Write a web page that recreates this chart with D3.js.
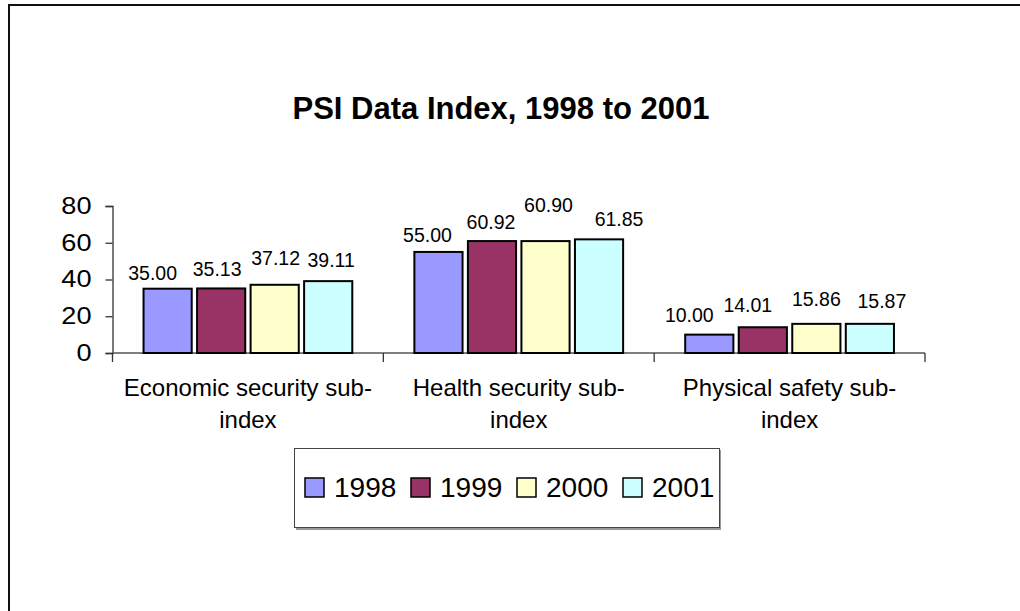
<!DOCTYPE html>
<html>
<head>
<meta charset="utf-8">
<script src="https://cdn.jsdelivr.net/npm/d3@7"></script>
<style>
  body { margin: 0; background: #fff; }
  svg { display: block; font-family: Arial, "Liberation Sans", sans-serif; }
</style>
</head>
<body>
<svg id="chart" width="1020" height="611"></svg>
<script>
// chart data
const categories = [
  ["Economic security sub-", "index"],
  ["Health security sub-", "index"],
  ["Physical safety sub-", "index"]
];
const years = ["1998", "1999", "2000", "2001"];
const values1998 = [35.00, 55.00, 10.00];
const values1999 = [35.13, 60.92, 14.01];
const values2000 = [37.12, 60.90, 15.86];
const values2001 = [39.11, 61.85, 15.87];
const yTicks = [0, 20, 40, 60, 80];
const colors = ["#9999FF", "#993366", "#FFFFCC", "#CCFFFF"];

// label nudges (dx, dy from bar centre/top), the source staggers its labels
const labelNudge = [
  [[-15, -16], [-11, -17], [-20, -19]],
  [[-4, -19], [-1, -19], [-15, -22]],
  [[1, -27], [3, -36], [0, -25]],
  [[3, -21], [20, -20], [12, -23]]
];

const series = [values1998, values1999, values2000, values2001];

const svg = d3.select("#chart");

// outer chart border (only top and left show in frame)
svg.append("path")
  .attr("d", "M9,611 V5 H1020")
  .attr("fill", "none")
  .attr("stroke", "#111")
  .attr("stroke-width", 2);

// title
svg.append("text")
  .attr("x", 501)
  .attr("y", 119)
  .attr("text-anchor", "middle")
  .attr("font-weight", "bold")
  .attr("font-size", 31)
  .text("PSI Data Index, 1998 to 2001");

const plotLeft = 112.5, plotRight = 925, plotTop = 206, plotBottom = 353;

let x0 = d3.scaleBand()
  .domain(d3.range(categories.length))
  .range([plotLeft, plotRight])
  .padding(0);

let x1 = d3.scaleBand()
  .domain(years)
  .range([0, x0.bandwidth()])
  .paddingInner(0.1)
  .paddingOuter(0.58);

let y = d3.scaleLinear().domain([0, 80]).range([plotBottom, plotTop]);

// y axis
let yAxis = d3.axisLeft(y).tickValues(yTicks).tickSize(7).tickPadding(14);
let gy = svg.append("g")
  .attr("transform", "translate(" + plotLeft + ",0)")
  .call(yAxis);
gy.select(".domain").attr("stroke", "#333").attr("stroke-width", 1.3);
gy.selectAll(".tick line").attr("stroke", "#333").attr("stroke-width", 1.3);
gy.selectAll(".tick text")
  .attr("font-size", 23)
  .attr("fill", "#000")
  .attr("font-family", null)
  .attr("transform", "scale(1.18,1)")
  .attr("x", -21 / 1.18);

// x axis line + category boundary ticks
svg.append("line")
  .attr("x1", plotLeft).attr("x2", plotRight)
  .attr("y1", y(0)).attr("y2", y(0))
  .attr("stroke", "#555").attr("stroke-width", 1.3);

const boundaries = d3.range(categories.length + 1).map(i =>
  i < categories.length ? x0(i) : x0(i - 1) + x0.bandwidth());
svg.append("g").selectAll("line")
  .data(boundaries)
  .join("line")
  .attr("x1", d => d).attr("x2", d => d)
  .attr("y1", y(0)).attr("y2", y(0) + 9)
  .attr("stroke", "#333").attr("stroke-width", 1.3);

// bars
let groups = svg.append("g").selectAll("g")
  .data(categories.map((c, i) => i))
  .join("g")
  .attr("transform", i => "translate(" + x0(i) + ",0)");

const cells = i => years.map((yr, j) => ({ yr: yr, j: j, i: i, v: series[j][i] }));

groups.selectAll("rect")
  .data(cells)
  .join("rect")
  .attr("x", d => x1(d.yr))
  .attr("y", d => y(d.v))
  .attr("width", x1.bandwidth())
  .attr("height", d => y(0) - y(d.v))
  .attr("fill", d => colors[d.j])
  .attr("stroke", "#000")
  .attr("stroke-width", 2);

// value labels
groups.selectAll("text.val")
  .data(cells)
  .join("text")
  .attr("class", "val")
  .attr("x", d => x1(d.yr) + x1.bandwidth() / 2 + labelNudge[d.j][d.i][0])
  .attr("y", d => y(d.v) + labelNudge[d.j][d.i][1])
  .attr("dy", "0.35em")
  .attr("text-anchor", "middle")
  .attr("font-size", 19.5)
  .text(d => d.v.toFixed(2));

// category labels
let cat = svg.append("g").selectAll("text")
  .data(categories)
  .join("text")
  .attr("x", (d, i) => x0(i) + x0.bandwidth() / 2)
  .attr("y", y(0) + 43)
  .attr("text-anchor", "middle")
  .attr("font-size", 24);
cat.selectAll("tspan")
  .data(d => d)
  .join("tspan")
  .attr("x", function () { return d3.select(this.parentNode).attr("x"); })
  .attr("dy", (d, k) => k === 0 ? 0 : 32)
  .text(d => d);

// legend
const lg = svg.append("g");
lg.append("rect")
  .attr("x", 296).attr("y", 450)
  .attr("width", 425).attr("height", 80)
  .attr("fill", "#999");
lg.append("rect")
  .attr("x", 294.5).attr("y", 448.5)
  .attr("width", 425).attr("height", 79)
  .attr("fill", "#fff")
  .attr("stroke", "#444").attr("stroke-width", 1);

let items = lg.selectAll("g.item")
  .data(years)
  .join("g")
  .attr("class", "item")
  .attr("transform", (d, i) => "translate(" + (305 + i * 106) + ",478)");
items.append("rect")
  .attr("width", 19).attr("height", 19)
  .attr("fill", (d, i) => colors[i])
  .attr("stroke", "#000").attr("stroke-width", 1.5);
items.append("text")
  .attr("x", 29).attr("y", 19)
  .attr("font-size", 28)
  .text(d => d);
</script>
</body>
</html>
